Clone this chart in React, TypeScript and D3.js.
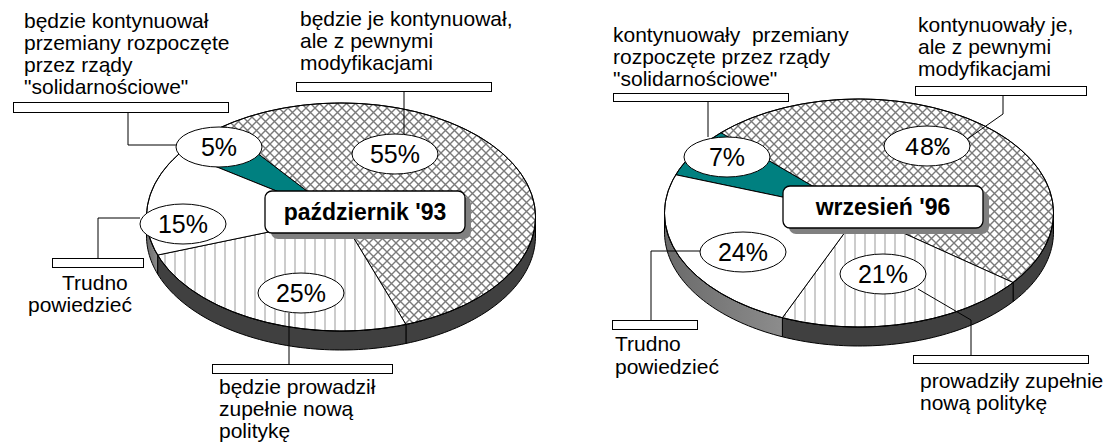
import React from "react";
import * as d3 from "d3";

// category labels (line by line) and values, in pie order
const labels93 = [
  ["będzie kontynuował", "przemiany rozpoczęte", "przez rządy", "\"solidarnościowe\""],
  ["będzie je kontynuował,", "ale z pewnymi", "modyfikacjami"],
  ["będzie prowadził", "zupełnie nową", "politykę"],
  ["Trudno", "powiedzieć"],
];
const values93 = [5, 55, 25, 15];

const labels96 = [
  ["kontynuowały  przemiany", "rozpoczęte przez rządy", "\"solidarnościowe\""],
  ["kontynuowały je,", "ale z pewnymi", "modyfikacjami"],
  ["prowadziły zupełnie", "nową politykę"],
  ["Trudno", "powiedzieć"],
];
const values96 = [7, 48, 21, 24];

const titles = ["październik '93", "wrzesień '96"];

const fills = ["#008080", "url(#cross)", "url(#vlines)", "#ffffff"];
const sideFills = ["#004d4d", "#404040", "#404040", "url(#graySide)"];

const RX = 194.5;
const RY = 114;
const DEPTH = 19;

// where the annotations sit (Excel moved them by hand)
const layouts = [
  {
    cx: 341, cy: 217, start: -55.5,
    title: { x: 265, y: 191, w: 200, h: 42 },
    pct: [[219, 147], [395, 154], [301, 293], [183, 224]],
    mono: [false, false, false, false],
    text: [
      { x: [24], y: 28, dy: 22 },
      { x: [300], y: 26, dy: 22 },
      { x: [219], y: 394, dy: 22 },
      { x: [62, 28], y: 290, dy: 22 },
    ],
    box: [[13, 102, 215, 10], [296, 82, 195, 9], [212, 364, 180, 9], [52, 258, 91, 9]],
    leader: [
      [[128, 112], [128, 145], [176, 145]],
      [[404, 91], [404, 134]],
      [[289, 313], [289, 364]],
      [[140, 218], [98, 218], [98, 258]],
    ],
  },
  {
    cx: 859, cy: 213, start: -70.4,
    title: { x: 783, y: 186, w: 200, h: 42 },
    pct: [[727, 157], [927, 146], [883, 274], [743, 252]],
    mono: [false, true, false, false],
    text: [
      { x: [613], y: 42, dy: 22 },
      { x: [918], y: 32, dy: 22 },
      { x: [920], y: 388, dy: 22 },
      { x: [615], y: 351, dy: 23 },
    ],
    box: [[613, 93, 175, 8], [915, 86, 171, 9], [913, 355, 175, 8], [612, 320, 85, 9]],
    leader: [
      [[708, 101], [708, 137]],
      [[1003, 95], [1003, 114], [963, 142]],
      [[918, 289], [971, 320], [971, 355]],
      [[700, 251], [651, 251], [651, 320]],
    ],
  },
];

const FONT = "Arial, 'Liberation Sans', sans-serif";
const MONO = "'Liberation Mono', 'Courier New', monospace";

function Pie3D({ values, labels, title, lay }: any) {
  const { cx, cy } = lay;
  const pt = (a: number, dy = 0): [number, number] => [cx + RX * Math.sin(a), cy - RY * Math.cos(a) + dy];
  const line = d3.line();
  const arcs = d3
    .pie<number>()
    .sort(null)
    .value((d) => d)
    .startAngle((lay.start * Math.PI) / 180)
    .endAngle((lay.start * Math.PI) / 180 + 2 * Math.PI)(values);

  const sample = (a0: number, a1: number, dy = 0) => {
    const n = Math.max(2, Math.ceil(Math.abs(a1 - a0) * 40));
    return d3.range(n + 1).map((i) => pt(a0 + ((a1 - a0) * i) / n, dy));
  };

  // only the front half of the rim is visible
  const sides: { d: string; i: number }[] = [];
  arcs.forEach((a, i) => {
    [-1, 0, 1].forEach((k) => {
      const lo = Math.PI / 2 + 2 * Math.PI * k;
      const hi = (3 * Math.PI) / 2 + 2 * Math.PI * k;
      const s = Math.max(a.startAngle, lo);
      const e = Math.min(a.endAngle, hi);
      if (e > s) {
        const pts = [...sample(s, e), ...sample(e, s, DEPTH)];
        sides.push({ d: line(pts) + "Z", i });
      }
    });
  });

  return (
    <g>
      {sides.map((s, j) => (
        <path key={"s" + j} d={s.d} fill={sideFills[s.i]} stroke="#000" strokeWidth={1} />
      ))}
      {arcs.map((a, i) => (
        <path
          key={"t" + i}
          d={line([[cx, cy], ...sample(a.startAngle, a.endAngle)]) + "Z"}
          fill={fills[i]}
          stroke="#000"
          strokeWidth={1}
          strokeLinejoin="round"
        />
      ))}
      <ellipse cx={cx} cy={cy} rx={RX} ry={RY} fill="none" stroke="#000" strokeWidth={1} />

      {/* title box */}
      <rect x={lay.title.x + 6} y={lay.title.y + 6} width={lay.title.w} height={lay.title.h} rx={7} fill="#808080" />
      <rect x={lay.title.x} y={lay.title.y} width={lay.title.w} height={lay.title.h} rx={7} fill="#fff" stroke="#000" strokeWidth={1.3} />
      <text x={lay.title.x + lay.title.w / 2} y={lay.title.y + 29} textAnchor="middle" fontFamily={FONT} fontWeight="bold" fontSize={23}>
        {title}
      </text>

      {/* leaders, boxes, category text */}
      {lay.leader.map((l: [number, number][], i: number) => (
        <path key={"l" + i} d={line(l) as string} fill="none" stroke="#000" strokeWidth={1} />
      ))}
      {lay.box.map((b: number[], i: number) => (
        <rect key={"b" + i} x={b[0] + 0.5} y={b[1] + 0.5} width={b[2]} height={b[3]} fill="#fff" stroke="#000" strokeWidth={1} />
      ))}
      {labels.map((lines: string[], i: number) =>
        lines.map((t, j) => (
          <text
            key={"c" + i + "-" + j}
            x={lay.text[i].x[Math.min(j, lay.text[i].x.length - 1)]}
            y={lay.text[i].y + j * lay.text[i].dy}
            fontFamily={FONT}
            fontSize={21}
            style={{ whiteSpace: "pre" }}
          >
            {t}
          </text>
        ))
      )}

      {/* percent ellipses */}
      {values.map((v: number, i: number) => (
        <g key={"p" + i}>
          <ellipse cx={lay.pct[i][0]} cy={lay.pct[i][1]} rx={43} ry={20} fill="#fff" stroke="#000" strokeWidth={1} />
          <text
            x={lay.pct[i][0]}
            y={lay.pct[i][1] + 9}
            textAnchor="middle"
            fontFamily={lay.mono[i] ? MONO : FONT}
            fontSize={25}
          >
            {v + "%"}
          </text>
        </g>
      ))}
    </g>
  );
}

export default function App() {
  return (
    <svg
      width={1111}
      height={447}
      viewBox="0 0 1111 447"
      style={{ position: "absolute", left: 0, top: 0, background: "#fff" }}
    >
      <defs>
        <pattern id="cross" width={9} height={9} patternUnits="userSpaceOnUse">
          <rect width={9} height={9} fill="#fff" />
          <path d="M-1,-1L10,10M10,-1L-1,10" stroke="#7a7a7a" strokeWidth={1.4} />
        </pattern>
        <pattern id="vlines" width={10} height={10} patternUnits="userSpaceOnUse">
          <rect width={10} height={10} fill="#fff" />
          <line x1={5} x2={5} y1={0} y2={10} stroke="#999" strokeWidth={1} />
        </pattern>
        <linearGradient id="graySide" x1="0" x2="1" y1="0" y2="0">
          <stop offset="0%" stopColor="#6a6a6a" />
          <stop offset="100%" stopColor="#8c8c8c" />
        </linearGradient>
      </defs>
      <Pie3D values={values93} labels={labels93} title={titles[0]} lay={layouts[0]} />
      <Pie3D values={values96} labels={labels96} title={titles[1]} lay={layouts[1]} />
    </svg>
  );
}
